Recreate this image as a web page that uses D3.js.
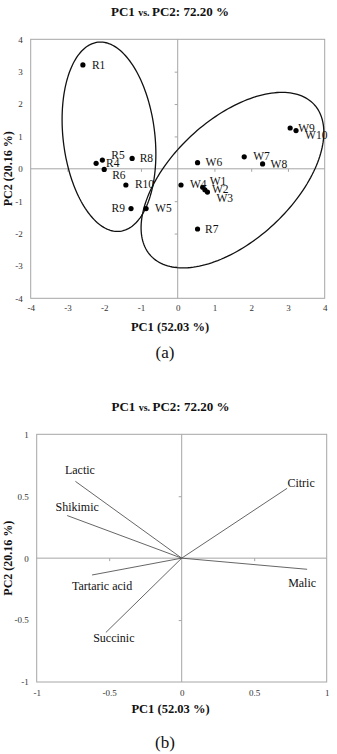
<!DOCTYPE html>
<html>
<head>
<meta charset="utf-8">
<script src="https://cdn.jsdelivr.net/npm/d3@7"></script>
<style>
  body { margin: 0; background: #fff; }
  text { font-family: "Liberation Serif", "Times New Roman", serif; fill: #111; }
  .tick text { font-size: 9px; fill: #333; }
</style>
</head>
<body>
<div id="chart"></div>
<script>
// scores plot (a)
var sampleNames = ['R1', 'R4', 'R5', 'R6', 'R8', 'R10', 'R9', 'W5', 'W4', 'W1', 'W2', 'W3', 'W6', 'W7', 'W8', 'W9', 'W10', 'R7']
var samplePC1 = [-2.58, -2.22, -2.05, -2.0, -1.24, -1.41, -1.27, -0.86, 0.09, 0.68, 0.74, 0.81, 0.54, 1.81, 2.31, 3.06, 3.22, 0.54]
var samplePC2 = [3.21, 0.17, 0.27, -0.02, 0.32, -0.5, -1.23, -1.23, -0.5, -0.57, -0.65, -0.72, 0.19, 0.37, 0.15, 1.26, 1.18, -1.86]
var scoreTicks = [-4, -3, -2, -1, 0, 1, 2, 3, 4]

// group outlines: centre and two half-axis vectors, in PC units
var groupCentres = [[-1.87, 0.99], [1.49, -0.35]]
var groupAxisA = [[-0.30, 2.92], [2.22, 2.34]]
var groupAxisB = [[1.24, 0.16], [-1.12, 1.37]]

// loadings plot (b)
var acidNames = ['Lactic', 'Shikimic', 'Citric', 'Malic', 'Tartaric acid', 'Succinic']
var acidPC1 = [-0.733, -0.79, 0.727, 0.865, -0.618, -0.523]
var acidPC2 = [0.62, 0.344, 0.564, -0.09, -0.136, -0.6]
var loadTicks = [-1, -0.5, 0, 0.5, 1]

var svg = d3.select('#chart').append('svg')
  .attr('width', 337).attr('height', 754)

function frame(g, x, y, xt, yt, xpad, ypad) {
  var x0 = x.range()[0], x1 = x.range()[1]
  var y0 = y.range()[1], y1 = y.range()[0]
  g.append('rect')
    .attr('x', x0).attr('y', y0)
    .attr('width', x1 - x0).attr('height', y1 - y0)
    .attr('fill', 'none').attr('stroke', '#a6a6a6').attr('stroke-width', 1)
  // zero lines
  g.append('line').attr('x1', x0).attr('x2', x1).attr('y1', y(0)).attr('y2', y(0))
    .attr('stroke', '#a6a6a6')
  g.append('line').attr('x1', x(0)).attr('x2', x(0)).attr('y1', y0).attr('y2', y1)
    .attr('stroke', '#a6a6a6')
  // ticks on the zero lines
  g.append('g').attr('transform', 'translate(0,' + y(0) + ')')
    .call(d3.axisBottom(x).tickValues(xt.filter(d => d != 0 && d != xt[0] && d != xt[xt.length - 1])).tickSize(3).tickFormat(''))
    .call(a => a.select('.domain').remove())
    .selectAll('line').attr('stroke', '#a6a6a6')
  g.append('g').attr('transform', 'translate(' + x(0) + ',0)')
    .call(d3.axisLeft(y).tickValues(yt.filter(d => d != 0 && d != yt[0] && d != yt[yt.length - 1])).tickSize(3).tickFormat(''))
    .call(a => a.select('.domain').remove())
    .selectAll('line').attr('stroke', '#a6a6a6')
  // labels on the frame
  g.append('g').attr('transform', 'translate(0,' + y1 + ')')
    .call(d3.axisBottom(x).tickValues(xt).tickSize(0).tickPadding(xpad).tickFormat(d => String(d)))
    .call(a => a.select('.domain').remove())
  g.append('g').attr('transform', 'translate(' + x0 + ',0)')
    .call(d3.axisLeft(y).tickValues(yt).tickSize(0).tickPadding(ypad).tickFormat(d => String(d)))
    .call(a => a.select('.domain').remove())
  g.selectAll('.tick text').attr('font-family', null).attr('font-size', null)
}

function titles(g, cx, titleY, xLabelY, axisMidY, tag, tagY) {
  var t = g.append('text').attr('x', cx).attr('y', titleY)
    .attr('text-anchor', 'middle').attr('font-weight', 'bold').attr('font-size', 13)
  t.append('tspan').text('PC1 ')
  t.append('tspan').attr('font-size', 10).text('vs. ')
  t.append('tspan').text('PC2: 72.20 %')
  g.append('text').attr('x', cx).attr('y', xLabelY)
    .attr('text-anchor', 'middle').attr('font-weight', 'bold').attr('font-size', 12.5)
    .text('PC1 (52.03 %)')
  g.append('text').attr('transform', 'translate(12,' + axisMidY + ') rotate(-90)')
    .attr('text-anchor', 'middle').attr('font-weight', 'bold').attr('font-size', 12)
    .text('PC2 (20.16 %)')
  g.append('text').attr('x', 165).attr('y', tagY)
    .attr('text-anchor', 'middle').attr('font-size', 17)
    .text(tag)
}

// ---------- (a) scores ----------
var xA = d3.scaleLinear().domain([-4, 4]).range([30.7, 324.7])
var yA = d3.scaleLinear().domain([-4, 4]).range([298.3, 39.3])
var gA = svg.append('g')
frame(gA, xA, yA, scoreTicks, scoreTicks, 6.5, 8)
titles(gA, 170, 16, 331, yA(0), '(a)', 358)

var ellipse = d3.line().curve(d3.curveLinearClosed)
groupCentres.forEach(function(c, i) {
  var a = groupAxisA[i], b = groupAxisB[i]
  var pts = d3.range(0, 2 * Math.PI, Math.PI / 90).map(function(t) {
    return [xA(c[0] + a[0] * Math.cos(t) + b[0] * Math.sin(t)),
            yA(c[1] + a[1] * Math.cos(t) + b[1] * Math.sin(t))]
  })
  gA.append('path').attr('d', ellipse(pts))
    .attr('fill', 'none').attr('stroke', '#111').attr('stroke-width', 1.3)
})

// label placement next to each dot (px)
var labelOffset = {
  R1: [9, 4], R4: [10, 3.5], R5: [9, -1.5], R6: [8, 10], R8: [7.5, 3.5], R10: [9, 3.5],
  R9: [-6, 3.5, 'end'], W5: [9, 3.5], W4: [9, 3.5], W1: [7, -2], W2: [7, 3.5], W3: [9, 10],
  W6: [8, 3.5], W7: [9, 3], W8: [8, 4], W9: [8, 3.5], W10: [9, 8], R7: [7.5, 3.5]
}
var samples = sampleNames.map((n, i) => ({ name: n, pc1: samplePC1[i], pc2: samplePC2[i] }))
gA.selectAll('circle.pt').data(samples).enter().append('circle')
  .attr('class', 'pt')
  .attr('cx', d => xA(d.pc1)).attr('cy', d => yA(d.pc2)).attr('r', 2.6)
  .attr('fill', '#000')
gA.selectAll('text.lab').data(samples).enter().append('text')
  .attr('class', 'lab')
  .attr('x', d => xA(d.pc1) + labelOffset[d.name][0])
  .attr('y', d => yA(d.pc2) + labelOffset[d.name][1])
  .attr('text-anchor', d => labelOffset[d.name][2] || 'start')
  .attr('font-size', 11.5)
  .text(d => d.name)

// ---------- (b) loadings ----------
var xB = d3.scaleLinear().domain([-1, 1]).range([36.7, 326.7])
var yB = d3.scaleLinear().domain([-1, 1]).range([682, 434.3])
var gB = svg.append('g')
frame(gB, xB, yB, loadTicks, loadTicks, 7.5, 8)
titles(gB, 170.5, 411, 713, yB(0), '(b)', 748)

var acids = acidNames.map((n, i) => ({ name: n, pc1: acidPC1[i], pc2: acidPC2[i] }))
gB.selectAll('line.vec').data(acids).enter().append('line')
  .attr('class', 'vec')
  .attr('x1', xB(0)).attr('y1', yB(0))
  .attr('x2', d => xB(d.pc1)).attr('y2', d => yB(d.pc2))
  .attr('stroke', '#555').attr('stroke-width', 0.9)

var acidOffset = {
  'Lactic': [4.5, -7], 'Shikimic': [10, -5], 'Citric': [14, -1],
  'Malic': [-5, 18], 'Tartaric acid': [10, 15], 'Succinic': [8, 10]
}
gB.selectAll('text.acid').data(acids).enter().append('text')
  .attr('class', 'acid')
  .attr('x', d => xB(d.pc1) + acidOffset[d.name][0])
  .attr('y', d => yB(d.pc2) + acidOffset[d.name][1])
  .attr('text-anchor', 'middle')
  .attr('font-size', 12)
  .text(d => d.name)
</script>
</body>
</html>
